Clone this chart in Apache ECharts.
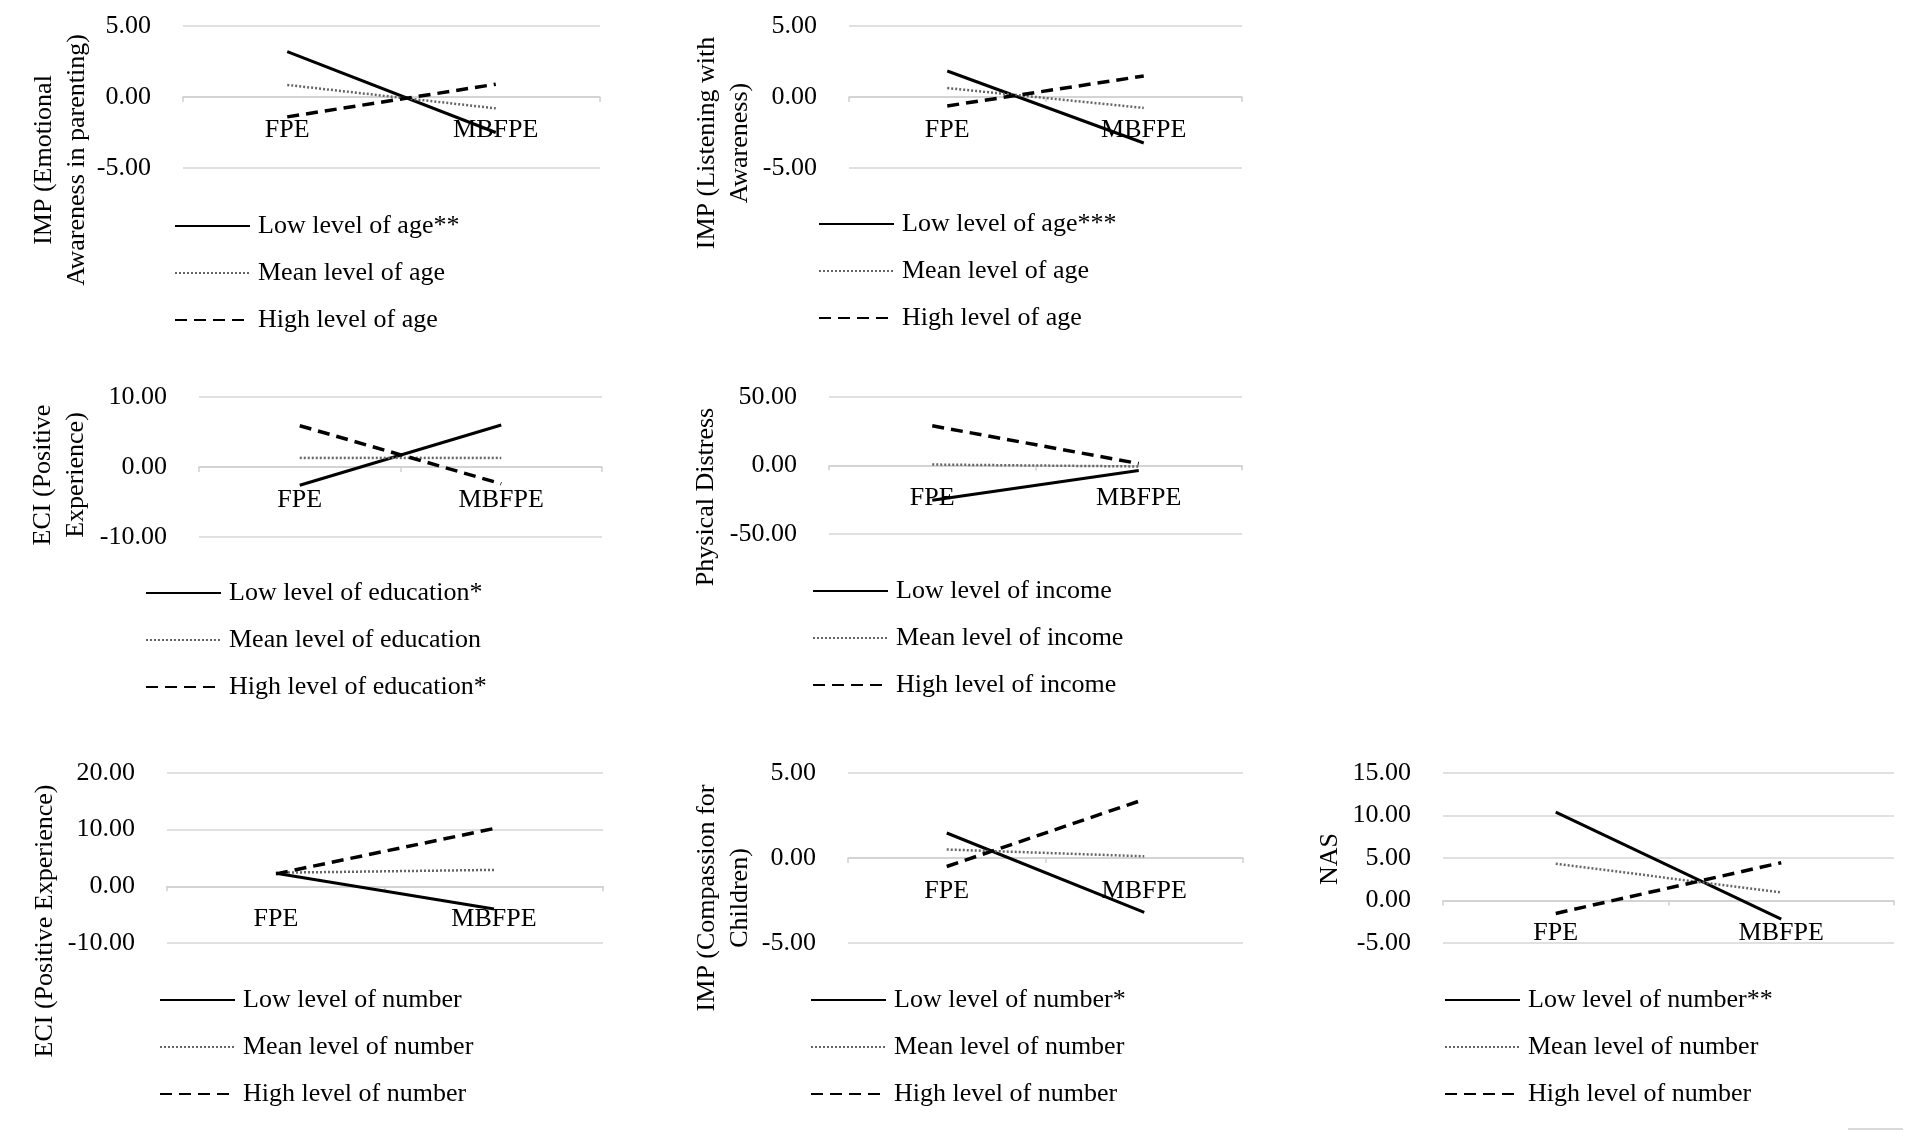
<!DOCTYPE html>
<html>
<head>
<meta charset="utf-8">
<title>Simple slopes</title>
<script src="https://cdn.jsdelivr.net/npm/echarts@6/dist/echarts.min.js"></script>
<style>
html, body { margin: 0; padding: 0; background: #fff; }
#chart { width: 1913px; height: 1139px; }
</style>
</head>
<body>
<div id="chart"></div>
<script>
var categories = ['FPE', 'MBFPE'];

// IMP (Emotional Awareness in parenting) x age
var emoAgeLow = [3.2, -2.5];
var emoAgeMean = [0.85, -0.8];
var emoAgeHigh = [-1.4, 0.9];

// IMP (Listening with Awareness) x age
var lisAgeLow = [1.83, -3.24];
var lisAgeMean = [0.63, -0.77];
var lisAgeHigh = [-0.63, 1.48];

// ECI (Positive Experience) x education
var eciEduLow = [-2.6, 6.0];
var eciEduMean = [1.3, 1.3];
var eciEduHigh = [5.9, -2.4];

// Physical Distress x income
var pdIncLow = [-25.4, -3.6];
var pdIncMean = [0.7, -0.7];
var pdIncHigh = [29.0, 1.4];

// ECI (Positive Experience) x number
var eciNumLow = [2.3, -4.0];
var eciNumMean = [2.4, 2.9];
var eciNumHigh = [2.2, 10.2];

// IMP (Compassion for Children) x number
var cmpNumLow = [1.47, -3.2];
var cmpNumMean = [0.5, 0.1];
var cmpNumHigh = [-0.5, 3.45];

// NAS x number
var nasNumLow = [10.4, -2.2];
var nasNumMean = [4.33, 0.94];
var nasNumHigh = [-1.52, 4.45];

var serif = "'Liberation Serif', 'Times New Roman', serif";

var panels = [
    {title: 'IMP (Emotional\nAwareness in parenting)', tx: 61, ty: 160,
     grid: [183, 26, 417, 142], y: [-5, 5, 5], legend: [174, 211],
     names: ['Low level of age**', 'Mean level of age', 'High level of age'],
     data: [emoAgeLow, emoAgeMean, emoAgeHigh]},
    {title: 'IMP (Listening with\nAwareness)', tx: 724, ty: 143,
     grid: [849, 26, 393, 142], y: [-5, 5, 5], legend: [818, 209],
     names: ['Low level of age***', 'Mean level of age', 'High level of age'],
     data: [lisAgeLow, lisAgeMean, lisAgeHigh]},
    {title: 'ECI (Positive\nExperience)', tx: 60, ty: 475,
     grid: [199, 397, 403, 140], y: [-10, 10, 10], legend: [145, 578],
     names: ['Low level of education*', 'Mean level of education', 'High level of education*'],
     data: [eciEduLow, eciEduMean, eciEduHigh]},
    {title: 'Physical Distress', tx: 706, ty: 497,
     grid: [829, 397, 413, 137], y: [-50, 50, 50], legend: [812, 576],
     names: ['Low level of income', 'Mean level of income', 'High level of income'],
     data: [pdIncLow, pdIncMean, pdIncHigh]},
    {title: 'ECI (Positive Experience)', tx: 45, ty: 921,
     grid: [167, 773, 436, 170], y: [-10, 20, 10], legend: [159, 985],
     names: ['Low level of number', 'Mean level of number', 'High level of number'],
     data: [eciNumLow, eciNumMean, eciNumHigh]},
    {title: 'IMP (Compassion for\nChildren)', tx: 724, ty: 898,
     grid: [848, 773, 395, 170], y: [-5, 5, 5], legend: [810, 985],
     names: ['Low level of number*', 'Mean level of number', 'High level of number'],
     data: [cmpNumLow, cmpNumMean, cmpNumHigh]},
    {title: 'NAS', tx: 1330, ty: 859,
     grid: [1443, 773, 451, 170], y: [-5, 15, 5], legend: [1444, 985],
     names: ['Low level of number**', 'Mean level of number', 'High level of number'],
     data: [nasNumLow, nasNumMean, nasNumHigh]}
];

// solid / dotted / dashed, same for every panel
var lineStyles = [
    {color: '#000', width: 3, type: 'solid'},
    {color: '#666', width: 2.5, type: [2, 2]},
    {color: '#000', width: 3.5, type: [12, 7]}
];

var option = {
    animation: false,
    backgroundColor: '#fff',
    grid: [], xAxis: [], yAxis: [], series: [], legend: [], graphic: []
};

panels.forEach(function (p, i) {
    // category axis sits on the zero line of the value axis
    var zeroShift = p.grid[3] * (0 - p.y[0]) / (p.y[1] - p.y[0]);
    option.grid.push({left: p.grid[0], top: p.grid[1], width: p.grid[2], height: p.grid[3], containLabel: false});
    option.xAxis.push({
        type: 'category', gridIndex: i, data: categories, boundaryGap: true,
        position: 'bottom', offset: -zeroShift,
        axisLine: {onZero: false, lineStyle: {color: '#d0d0d0', width: 1.5}},
        axisTick: {show: true, length: 5, lineStyle: {color: '#d0d0d0', width: 1.5}},
        axisLabel: {margin: 20, interval: 0, color: '#000', fontSize: 26, fontFamily: serif}
    });
    option.yAxis.push({
        type: 'value', gridIndex: i, min: p.y[0], max: p.y[1], interval: p.y[2],
        axisLine: {show: false}, axisTick: {show: false},
        splitLine: {lineStyle: {color: '#d6d6d6', width: 1.5}},
        axisLabel: {margin: 32, color: '#000', fontSize: 26, fontFamily: serif,
            formatter: function (v) { return v.toFixed(2); }}
    });
    p.names.forEach(function (name, k) {
        option.series.push({
            type: 'line', name: name, xAxisIndex: i, yAxisIndex: i,
            data: p.data[k], symbol: 'none', silent: true,
            lineStyle: lineStyles[k], itemStyle: {color: lineStyles[k].color}
        });
    });
    option.legend.push({
        orient: 'vertical', left: p.legend[0], top: p.legend[1], padding: 0,
        itemWidth: 75, itemHeight: 30, itemGap: 17, selectedMode: false,
        itemStyle: {color: 'transparent', borderWidth: 0, opacity: 0},
        data: p.names,
        textStyle: {color: '#000', fontSize: 26, fontFamily: serif, lineHeight: 30, padding: [0, 0, 0, 3]}
    });
    option.graphic.push({
        type: 'text', x: p.tx, y: p.ty, rotation: Math.PI / 2, silent: true,
        style: {text: p.title, align: 'center', verticalAlign: 'middle',
            fill: '#000', fontSize: 26, fontFamily: serif, lineHeight: 33}
    });
});

// small grey stroke at the bottom right corner
option.graphic.push({
    type: 'line', silent: true,
    shape: {x1: 1848, y1: 1129, x2: 1903, y2: 1129},
    style: {stroke: '#d9d9d9', lineWidth: 2}
});

var chart = echarts.init(document.getElementById('chart'));
chart.setOption(option);
</script>
</body>
</html>
